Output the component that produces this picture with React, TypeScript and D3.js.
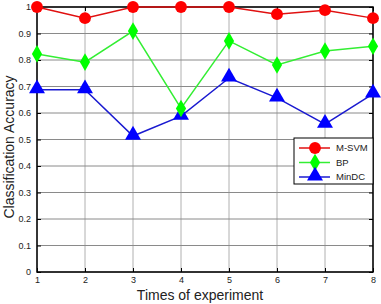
import { useEffect, useRef } from 'react';
import * as d3 from 'd3';

const times = [1, 2, 3, 4, 5, 6, 7, 8];
const msvm = [1, 0.958, 1, 1, 1, 0.973, 0.988, 0.958];
const bp = [0.823, 0.792, 0.909, 0.617, 0.872, 0.781, 0.834, 0.852];
const mindc = [0.688, 0.688, 0.513, 0.588, 0.732, 0.657, 0.558, 0.672];
const yTicks = [0, 0.1, 0.2, 0.3, 0.4, 0.5, 0.6, 0.7, 0.8, 0.9, 1];
const seriesNames = ['M-SVM', 'BP', 'MinDC'];

const App = () => {
  const svgRef = useRef<SVGSVGElement | null>(null);

  useEffect(() => {
    const svg = d3.select(svgRef.current);
    svg.selectAll('*').remove();

    const W = 381;
    const H = 304;
    const margin = { top: 7, right: 8, bottom: 32, left: 37 };
    const width = W - margin.left - margin.right;
    const height = H - margin.top - margin.bottom;

    svg.append('rect').attr('width', W).attr('height', H).attr('fill', '#fff');

    const g = svg.append('g').attr('transform', `translate(${margin.left},${margin.top})`);

    const x = d3.scaleLinear().domain([1, 8]).range([0, width]);
    const y = d3.scaleLinear().domain([0, 1]).range([height, 0]);

    // grid
    g.append('g')
      .selectAll('line')
      .data(times)
      .enter()
      .append('line')
      .attr('x1', d => x(d))
      .attr('x2', d => x(d))
      .attr('y1', 0)
      .attr('y2', height)
      .attr('stroke', '#b0b0b0')
      .attr('stroke-width', 1);

    g.append('g')
      .selectAll('line')
      .data(yTicks)
      .enter()
      .append('line')
      .attr('x1', 0)
      .attr('x2', width)
      .attr('y1', d => y(d))
      .attr('y2', d => y(d))
      .attr('stroke', '#8a8a8a')
      .attr('stroke-width', 1);

    // frame
    g.append('rect')
      .attr('width', width)
      .attr('height', height)
      .attr('fill', 'none')
      .attr('stroke', '#000')
      .attr('stroke-width', 1.5);

    // axes
    const xAxis = g.append('g')
      .attr('transform', `translate(0,${height})`)
      .call(d3.axisBottom(x).tickValues(times).tickSize(-4).tickPadding(5).tickFormat(d3.format('d')));
    const yAxis = g.append('g')
      .call(d3.axisLeft(y).tickValues(yTicks).tickSize(-4).tickPadding(6).tickFormat(d => (d === 0 || d === 1 ? String(d) : d3.format('.1f')(d as number))));
    g.append('g')
      .attr('transform', `translate(${width},0)`)
      .call(d3.axisRight(y).tickValues(yTicks).tickSize(-4).tickFormat(() => ''));
    g.append('g')
      .call(d3.axisTop(x).tickValues(times).tickSize(-4).tickFormat(() => ''));

    g.selectAll('.domain').remove();
    g.selectAll('.tick line').attr('stroke', '#000');
    [xAxis, yAxis].forEach(a =>
      a.selectAll('text')
        .attr('fill', '#222')
        .style('font-family', 'Liberation Sans, Arial, sans-serif')
        .style('font-size', '9px')
    );

    const colors = ['#ff0000', '#00ff00', '#0000ff'];
    const lineColors = ['#e01010', '#33ee33', '#1a1ad0'];
    const data = [msvm, bp, mindc];

    const line = d3.line<number>()
      .x((_, i) => x(times[i]))
      .y(d => y(d));

    const symbols = [
      d3.symbol().type(d3.symbolCircle).size(110),
      d3.symbol().type(d3.symbolDiamond).size(90),
      d3.symbol().type(d3.symbolTriangle).size(110),
    ];

    // draw in reverse so red sits on top
    [2, 1, 0].forEach(si => {
      g.append('path')
        .datum(data[si])
        .attr('fill', 'none')
        .attr('stroke', lineColors[si])
        .attr('stroke-width', 1.5)
        .attr('d', line);
      g.append('g')
        .selectAll('path')
        .data(data[si])
        .enter()
        .append('path')
        .attr('transform', (d, i) => `translate(${x(times[i])},${y(d) + (si === 2 ? -1 : 0)})`)
        .attr('d', symbols[si]() as string)
        .attr('fill', colors[si]);
    });

    // legend
    const lg = g.append('g').attr('transform', `translate(${width - 79},${131})`);
    lg.append('rect')
      .attr('width', 79)
      .attr('height', 46)
      .attr('fill', '#fff')
      .attr('stroke', '#000')
      .attr('stroke-width', 1);
    seriesNames.forEach((name, i) => {
      const cy = 10 + i * 14.5;
      lg.append('line')
        .attr('x1', 5).attr('x2', 36)
        .attr('y1', cy).attr('y2', cy)
        .attr('stroke', lineColors[i])
        .attr('stroke-width', 1.5);
      lg.append('path')
        .attr('transform', `translate(21,${cy + (i === 2 ? -1 : 0)})`)
        .attr('d', symbols[i]() as string)
        .attr('fill', colors[i]);
      lg.append('text')
        .attr('x', 42)
        .attr('y', cy)
        .attr('dy', '0.35em')
        .attr('fill', '#222')
        .style('font-family', 'Liberation Sans, Arial, sans-serif')
        .style('font-size', '9.5px')
        .text(name);
    });

    // axis labels
    svg.append('text')
      .attr('x', 200)
      .attr('y', H - 4)
      .attr('text-anchor', 'middle')
      .attr('fill', '#222')
      .style('font-family', 'Liberation Sans, Arial, sans-serif')
      .style('font-size', '14px')
      .text('Times of experiment');

    svg.append('text')
      .attr('transform', 'rotate(-90)')
      .attr('x', -147)
      .attr('y', 14)
      .attr('text-anchor', 'middle')
      .attr('fill', '#222')
      .style('font-family', 'Liberation Sans, Arial, sans-serif')
      .style('font-size', '14px')
      .text('Classification Accuracy');
  }, []);

  return (
    <div style={{ position: 'absolute', left: 0, top: 0 }}>
      <svg ref={svgRef} width={381} height={304} style={{ display: 'block' }} />
    </div>
  );
};

export default App;
